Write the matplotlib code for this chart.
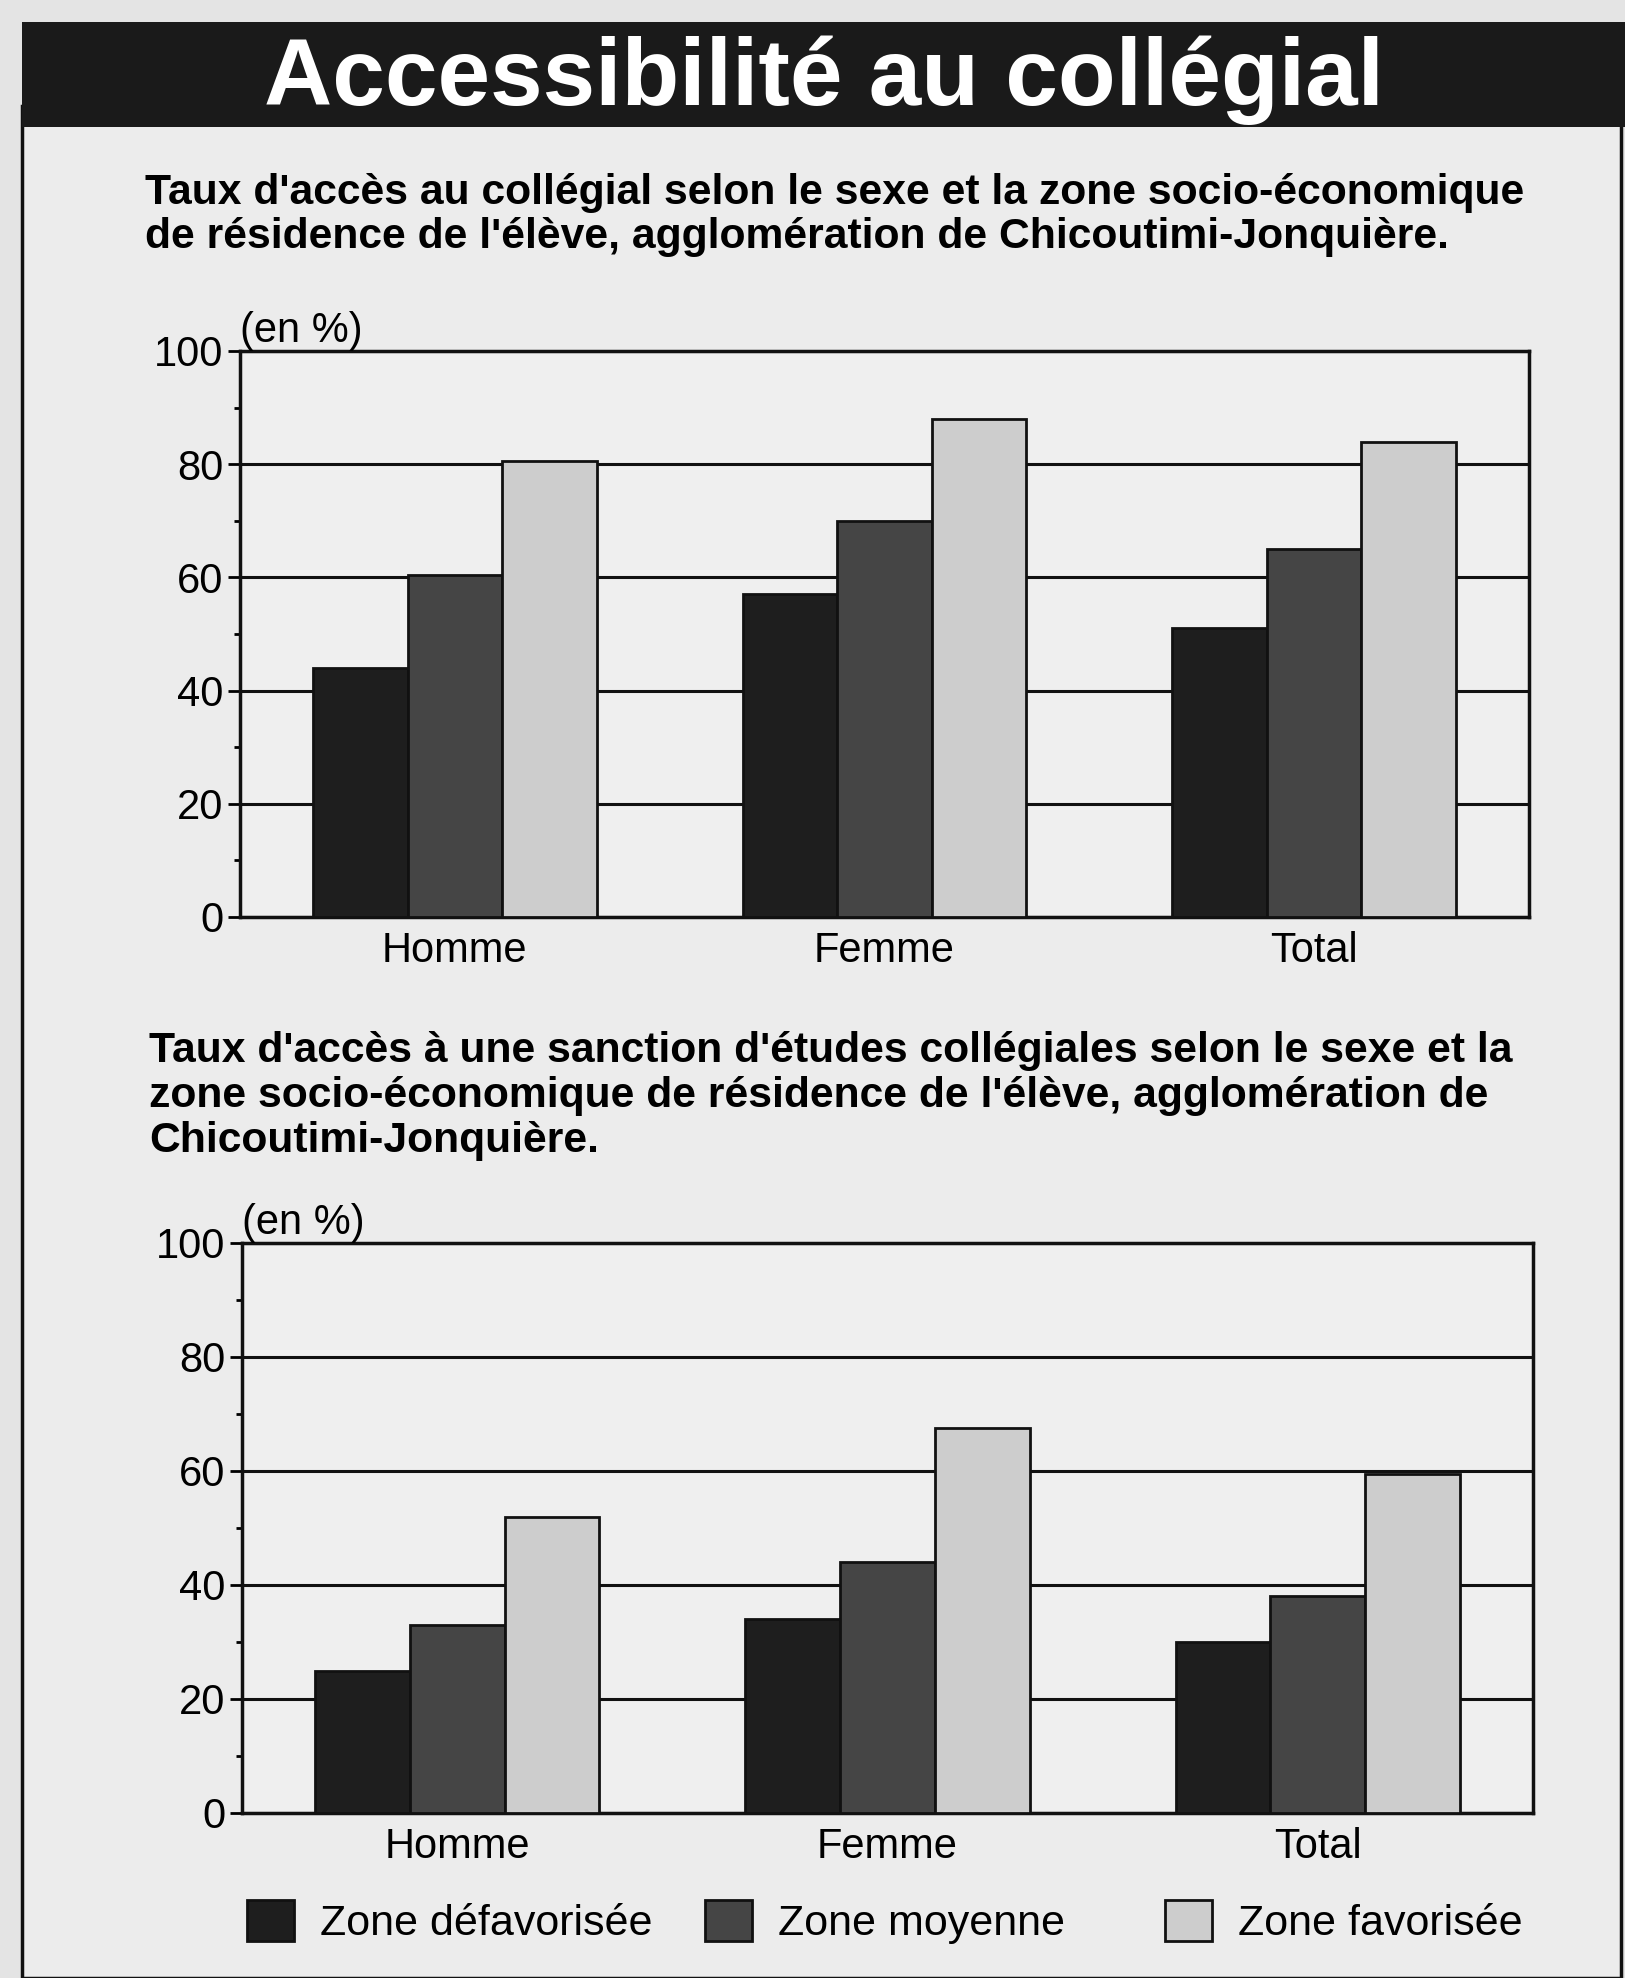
import matplotlib
matplotlib.use("Agg")
import matplotlib.pyplot as plt
from matplotlib.patches import Patch, Rectangle
import numpy as np

# data
groups = ["Homme", "Femme", "Total"]
zones = ["Zone défavorisée", "Zone moyenne", "Zone favorisée"]
acces_defav = [44, 57, 51]
acces_moy = [60.5, 70, 65]
acces_fav = [80.5, 88, 84]
sanction_defav = [25, 34, 30]
sanction_moy = [33, 44, 38]
sanction_fav = [52, 67.5, 59.5]
yticks = [0, 20, 40, 60, 80, 100]

title = "Accessibilité au collégial"
sub1 = ["Taux d'accès au collégial selon le sexe et la zone socio-économique",
        "de résidence de l'élève, agglomération de Chicoutimi-Jonquière."]
sub2 = ["Taux d'accès à une sanction d'études collégiales selon le sexe et la",
        "zone socio-économique de résidence de l'élève, agglomération de",
        "Chicoutimi-Jonquière."]

zone_colors = ["#1e1e1e", "#454545", "#cdcdcd"]
W, H = 1625, 1978
FONT = "Liberation Sans"

plt.rcParams["font.family"] = [FONT, "DejaVu Sans"]


def fx(px):
    return px / W


def fy(py):
    return 1 - py / H


fig = plt.figure(figsize=(W / 100, H / 100), dpi=100, facecolor="#e4e4e4")

# panel + title bar
fig.add_artist(Rectangle((fx(22), 0), fx(1621) - fx(22), fy(126) + 0.01,
                         transform=fig.transFigure, facecolor="#ececec",
                         edgecolor="#111111", lw=2.5, zorder=0))
fig.add_artist(Rectangle((fx(22), fy(127)), 1 - fx(22), fy(22) - fy(127),
                         transform=fig.transFigure, facecolor="#1a1a1a",
                         edgecolor="none", zorder=1))
fig.text(fx(824), fy(105), title, color="white", fontsize=68,
         fontweight="bold", ha="center", va="baseline", zorder=2)


def draw_panel(ax, series):
    x = np.arange(len(groups))
    w = 0.22
    ax.set_facecolor("#efefef")
    for i, vals in enumerate(series):
        ax.bar(x + (i - 1) * w, vals, w, color=zone_colors[i],
               edgecolor="#111111", linewidth=2, zorder=3, label=zones[i])
    ax.set_xlim(-0.5, 2.5)
    ax.set_ylim(0, 100)
    ax.set_yticks(yticks)
    ax.set_yticks(range(10, 100, 20), minor=True)
    ax.yaxis.grid(True, color="#111111", linewidth=2.2, zorder=1)
    ax.set_axisbelow(True)
    ax.set_xticks(x)
    ax.set_xticklabels(groups)
    ax.tick_params(axis="x", length=0, pad=10, labelsize=30)
    ax.tick_params(axis="y", which="major", direction="out", length=9,
                   width=2, pad=3, labelsize=30)
    ax.tick_params(axis="y", which="minor", direction="out", length=4, width=2)
    for s in ax.spines.values():
        s.set_linewidth(2.5)
        s.set_color("#111111")
    ax.text(0.0, 1.0, "(en %)", transform=ax.transAxes, fontsize=30,
            ha="left", va="bottom")


ax1 = fig.add_axes([fx(240), fy(917), fx(1529) - fx(240), fy(351) - fy(917)])
draw_panel(ax1, [acces_defav, acces_moy, acces_fav])

ax2 = fig.add_axes([fx(242), fy(1813), fx(1533) - fx(242), fy(1243) - fy(1813)])
draw_panel(ax2, [sanction_defav, sanction_moy, sanction_fav])

for i, line in enumerate(sub1):
    fig.text(fx(145), fy(204 + i * 44), line, fontsize=30.7,
             fontweight="bold", ha="left", va="baseline")
for i, line in enumerate(sub2):
    fig.text(fx(149), fy(1062 + i * 45), line, fontsize=30.7,
             fontweight="bold", ha="left", va="baseline")

# legend, one entry per column
leg_x = [247, 705, 1165]
for i in range(3):
    h = Patch(facecolor=zone_colors[i], edgecolor="#111111", linewidth=2)
    lg = fig.legend([h], [zones[i]], loc="center left",
                    bbox_to_anchor=(fx(leg_x[i]), fy(1922)),
                    frameon=False, fontsize=31, handlelength=1.1,
                    handleheight=1.1, handletextpad=0.6, borderpad=0,
                    borderaxespad=0)

fig.savefig("out.png", dpi=100, facecolor=fig.get_facecolor())
